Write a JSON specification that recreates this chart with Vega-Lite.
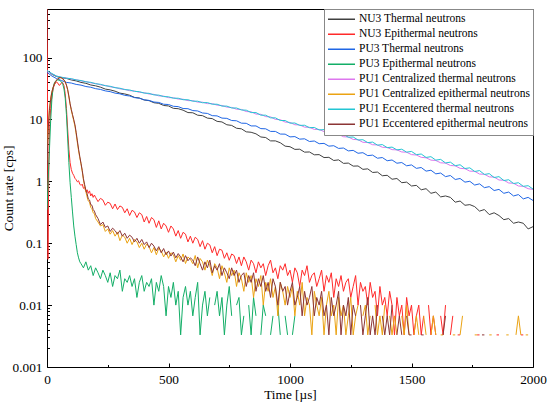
{
  "$schema": "https://vega.github.io/schema/vega-lite/v6.json",
  "description": "Neutron die-away count rate versus time.",
  "width": 486,
  "height": 358,
  "autosize": {"type": "none"},
  "padding": {"left": 47, "top": 9, "right": 17, "bottom": 39},
  "background": "white",
  "config": {
    "font": "Liberation Serif, Times New Roman, serif",
    "view": {"stroke": "#000", "strokeWidth": 1},
    "axis": {
      "labelFont": "Liberation Serif, Times New Roman, serif",
      "titleFont": "Liberation Serif, Times New Roman, serif",
      "labelFontSize": 13.3,
      "titleFontSize": 13.3,
      "titleFontWeight": "normal",
      "labelColor": "#000",
      "titleColor": "#000",
      "tickColor": "#000",
      "grid": false,
      "domain": false
    },
    "legend": {
      "labelFont": "Liberation Serif, Times New Roman, serif"
    }
  },
  "datasets": {
    "names": [
      {"s": "a", "name": "NU3 Thermal neutrons"},
      {"s": "b", "name": "NU3 Epithermal neutrons"},
      {"s": "c", "name": "PU3 Thermal neutrons"},
      {"s": "d", "name": "PU3 Epithermal neutrons"},
      {"s": "e", "name": "PU1 Centralized thermal neutrons"},
      {"s": "f", "name": "PU1 Centralized epithermal neutrons"},
      {"s": "g", "name": "PU1 Eccentered thermal neutrons"},
      {"s": "h", "name": "PU1 Eccentered epithermal neutrons"}
    ],
    "counts": [
      {"s":"a","t":0,"v":61.7},{"s":"a","t":20,"v":53.6},{"s":"a","t":40,"v":49.2},{"s":"a","t":60,"v":47.1},{"s":"a","t":80,"v":45.9},{"s":"a","t":100,"v":43.4},{"s":"a","t":120,"v":41.9},{"s":"a","t":140,"v":39.6},{"s":"a","t":160,"v":38.3},{"s":"a","t":180,"v":36.0},
      {"s":"a","t":200,"v":34.9},{"s":"a","t":220,"v":33.2},{"s":"a","t":240,"v":30.9},{"s":"a","t":260,"v":30.0},{"s":"a","t":280,"v":28.6},{"s":"a","t":300,"v":26.6},{"s":"a","t":320,"v":25.8},{"s":"a","t":340,"v":24.6},{"s":"a","t":360,"v":22.7},{"s":"a","t":380,"v":22.2},
      {"s":"a","t":400,"v":20.6},{"s":"a","t":420,"v":20.1},{"s":"a","t":440,"v":18.6},{"s":"a","t":460,"v":18.2},{"s":"a","t":480,"v":16.8},{"s":"a","t":500,"v":16.5},{"s":"a","t":520,"v":15.1},{"s":"a","t":540,"v":14.9},{"s":"a","t":560,"v":14.1},{"s":"a","t":580,"v":12.9},
      {"s":"a","t":600,"v":12.8},{"s":"a","t":620,"v":11.7},{"s":"a","t":640,"v":11.5},{"s":"a","t":660,"v":10.5},{"s":"a","t":680,"v":10.3},{"s":"a","t":700,"v":9.3},{"s":"a","t":720,"v":9.1},{"s":"a","t":740,"v":8.2},{"s":"a","t":760,"v":8.0},{"s":"a","t":780,"v":7.2},
      {"s":"a","t":800,"v":7.05},{"s":"a","t":820,"v":6.3},{"s":"a","t":840,"v":6.2},{"s":"a","t":860,"v":5.85},{"s":"a","t":880,"v":5.2},{"s":"a","t":900,"v":5.1},{"s":"a","t":920,"v":4.5},{"s":"a","t":940,"v":4.5},{"s":"a","t":960,"v":4.2},{"s":"a","t":980,"v":3.7},
      {"s":"a","t":1000,"v":3.62},{"s":"a","t":1020,"v":3.28},{"s":"a","t":1040,"v":3.3},{"s":"a","t":1060,"v":2.96},{"s":"a","t":1080,"v":2.98},{"s":"a","t":1100,"v":2.68},{"s":"a","t":1120,"v":2.7},{"s":"a","t":1140,"v":2.42},{"s":"a","t":1160,"v":2.44},{"s":"a","t":1180,"v":2.17},
      {"s":"a","t":1200,"v":2.22},{"s":"a","t":1220,"v":1.95},{"s":"a","t":1240,"v":1.97},{"s":"a","t":1260,"v":1.76},{"s":"a","t":1280,"v":1.77},{"s":"a","t":1300,"v":1.56},{"s":"a","t":1320,"v":1.59},{"s":"a","t":1340,"v":1.39},{"s":"a","t":1360,"v":1.41},{"s":"a","t":1380,"v":1.23},
      {"s":"a","t":1400,"v":1.25},{"s":"a","t":1420,"v":1.08},{"s":"a","t":1440,"v":1.11},{"s":"a","t":1460,"v":0.95},{"s":"a","t":1480,"v":0.97},{"s":"a","t":1500,"v":0.84},{"s":"a","t":1520,"v":0.86},{"s":"a","t":1540,"v":0.73},{"s":"a","t":1560,"v":0.76},{"s":"a","t":1580,"v":0.64},
      {"s":"a","t":1600,"v":0.67},{"s":"a","t":1620,"v":0.56},{"s":"a","t":1640,"v":0.58},{"s":"a","t":1660,"v":0.55},{"s":"a","t":1680,"v":0.46},{"s":"a","t":1700,"v":0.48},{"s":"a","t":1720,"v":0.41},{"s":"a","t":1740,"v":0.42},{"s":"a","t":1760,"v":0.39},{"s":"a","t":1780,"v":0.33},
      {"s":"a","t":1800,"v":0.35},{"s":"a","t":1820,"v":0.29},{"s":"a","t":1840,"v":0.31},{"s":"a","t":1860,"v":0.28},{"s":"a","t":1880,"v":0.24},{"s":"a","t":1900,"v":0.25},{"s":"a","t":1920,"v":0.21},{"s":"a","t":1940,"v":0.22},{"s":"a","t":1960,"v":0.21},{"s":"a","t":1980,"v":0.17},{"s":"a","t":2000,"v":0.185},

      {"s":"b","t":0,"v":700},{"s":"b","t":2,"v":30},{"s":"b","t":4,"v":0.055},{"s":"b","t":6,"v":0.4},{"s":"b","t":8,"v":2.5},{"s":"b","t":10,"v":6},{"s":"b","t":15,"v":15},{"s":"b","t":20,"v":24},{"s":"b","t":25,"v":31},{"s":"b","t":30,"v":36},
      {"s":"b","t":35,"v":39},{"s":"b","t":40,"v":40},{"s":"b","t":45,"v":38.5},{"s":"b","t":50,"v":35.5},{"s":"b","t":55,"v":36.5},{"s":"b","t":60,"v":39.5},{"s":"b","t":65,"v":39},{"s":"b","t":70,"v":35},{"s":"b","t":75,"v":26},{"s":"b","t":80,"v":15},
      {"s":"b","t":85,"v":7},{"s":"b","t":90,"v":3.3},{"s":"b","t":95,"v":2.0},{"s":"b","t":100,"v":1.55},{"s":"b","t":105,"v":1.35},{"s":"b","t":110,"v":1.25},{"s":"b","t":115,"v":1.12},{"s":"b","t":120,"v":1.06},{"s":"b","t":125,"v":0.98},{"s":"b","t":130,"v":1.02},
      {"s":"b","t":135,"v":0.9},{"s":"b","t":140,"v":0.86},{"s":"b","t":145,"v":0.9},{"s":"b","t":150,"v":0.77},{"s":"b","t":155,"v":0.8},{"s":"b","t":160,"v":0.68},{"s":"b","t":165,"v":0.73},{"s":"b","t":170,"v":0.64},{"s":"b","t":175,"v":0.7},{"s":"b","t":180,"v":0.58},
      {"s":"b","t":185,"v":0.63},{"s":"b","t":190,"v":0.55},{"s":"b","t":195,"v":0.6},{"s":"b","t":200,"v":0.55},{"s":"b","t":210,"v":0.47},{"s":"b","t":220,"v":0.53},{"s":"b","t":230,"v":0.5},{"s":"b","t":240,"v":0.41},{"s":"b","t":250,"v":0.46},{"s":"b","t":260,"v":0.44},
      {"s":"b","t":270,"v":0.36},{"s":"b","t":280,"v":0.43},{"s":"b","t":290,"v":0.35},{"s":"b","t":300,"v":0.4},{"s":"b","t":310,"v":0.38},{"s":"b","t":320,"v":0.31},{"s":"b","t":330,"v":0.36},{"s":"b","t":340,"v":0.28},{"s":"b","t":350,"v":0.34},{"s":"b","t":360,"v":0.32},
      {"s":"b","t":370,"v":0.26},{"s":"b","t":380,"v":0.31},{"s":"b","t":390,"v":0.29},{"s":"b","t":400,"v":0.22},{"s":"b","t":410,"v":0.27},{"s":"b","t":420,"v":0.21},{"s":"b","t":430,"v":0.26},{"s":"b","t":440,"v":0.24},{"s":"b","t":450,"v":0.18},{"s":"b","t":460,"v":0.23},
      {"s":"b","t":470,"v":0.17},{"s":"b","t":480,"v":0.21},{"s":"b","t":490,"v":0.19},{"s":"b","t":500,"v":0.15},{"s":"b","t":510,"v":0.19},{"s":"b","t":520,"v":0.17},{"s":"b","t":530,"v":0.13},{"s":"b","t":540,"v":0.16},{"s":"b","t":550,"v":0.12},{"s":"b","t":560,"v":0.15},
      {"s":"b","t":570,"v":0.14},{"s":"b","t":580,"v":0.105},{"s":"b","t":590,"v":0.13},{"s":"b","t":600,"v":0.1},{"s":"b","t":610,"v":0.125},{"s":"b","t":620,"v":0.115},{"s":"b","t":630,"v":0.088},{"s":"b","t":640,"v":0.11},{"s":"b","t":650,"v":0.08},{"s":"b","t":660,"v":0.1},
      {"s":"b","t":670,"v":0.094},{"s":"b","t":680,"v":0.07},{"s":"b","t":690,"v":0.088},{"s":"b","t":700,"v":0.063},{"s":"b","t":710,"v":0.08},{"s":"b","t":720,"v":0.077},{"s":"b","t":730,"v":0.057},{"s":"b","t":740,"v":0.07},{"s":"b","t":750,"v":0.053},{"s":"b","t":760,"v":0.067},
      {"s":"b","t":770,"v":0.063},{"s":"b","t":780,"v":0.047},{"s":"b","t":790,"v":0.06},{"s":"b","t":800,"v":0.0433},{"s":"b","t":810,"v":0.06},{"s":"b","t":820,"v":0.05},{"s":"b","t":830,"v":0.0367},{"s":"b","t":840,"v":0.0533},{"s":"b","t":850,"v":0.0467},{"s":"b","t":860,"v":0.0333},
      {"s":"b","t":870,"v":0.05},{"s":"b","t":880,"v":0.04},{"s":"b","t":890,"v":0.0467},{"s":"b","t":900,"v":0.03},{"s":"b","t":910,"v":0.0433},{"s":"b","t":920,"v":0.0533},{"s":"b","t":930,"v":0.0333},{"s":"b","t":940,"v":0.04},{"s":"b","t":950,"v":0.0267},{"s":"b","t":960,"v":0.0433},
      {"s":"b","t":970,"v":0.0367},{"s":"b","t":980,"v":0.0467},{"s":"b","t":990,"v":0.03},{"s":"b","t":1000,"v":0.0367},{"s":"b","t":1010,"v":0.0233},{"s":"b","t":1020,"v":0.04},{"s":"b","t":1030,"v":0.0333},{"s":"b","t":1040,"v":0.02},{"s":"b","t":1050,"v":0.0367},{"s":"b","t":1060,"v":0.03},
      {"s":"b","t":1070,"v":0.0433},{"s":"b","t":1080,"v":0.0233},{"s":"b","t":1090,"v":0.03},{"s":"b","t":1100,"v":0.0333},{"s":"b","t":1110,"v":0.02},{"s":"b","t":1120,"v":0.0267},{"s":"b","t":1130,"v":0.0367},{"s":"b","t":1140,"v":0.0167},{"s":"b","t":1150,"v":0.03},{"s":"b","t":1160,"v":0.0233},
      {"s":"b","t":1170,"v":0.0333},{"s":"b","t":1180,"v":0.0133},{"s":"b","t":1190,"v":0.0267},{"s":"b","t":1200,"v":0.02},{"s":"b","t":1210,"v":0.03},{"s":"b","t":1220,"v":0.0167},{"s":"b","t":1230,"v":0.0233},{"s":"b","t":1240,"v":0.0267},{"s":"b","t":1250,"v":0.0133},{"s":"b","t":1260,"v":0.02},
      {"s":"b","t":1270,"v":0.03},{"s":"b","t":1280,"v":0.01},{"s":"b","t":1290,"v":0.0233},{"s":"b","t":1300,"v":0.0167},{"s":"b","t":1310,"v":0.02},{"s":"b","t":1320,"v":0.01},{"s":"b","t":1330,"v":0.0233},{"s":"b","t":1340,"v":0.0133},{"s":"b","t":1350,"v":0.0167},{"s":"b","t":1360,"v":0.0067},
      {"s":"b","t":1370,"v":0.02},{"s":"b","t":1380,"v":0.01},{"s":"b","t":1390,"v":0.0133},{"s":"b","t":1400,"v":0.0067},{"s":"b","t":1410,"v":0.0167},{"s":"b","t":1420,"v":0.01},{"s":"b","t":1430,"v":0.0033},{"s":"b","t":1440,"v":0.0133},{"s":"b","t":1450,"v":0.0067},{"s":"b","t":1460,"v":0.01},
      {"s":"b","t":1470,"v":0.0033},{"s":"b","t":1480,"v":0.0133},{"s":"b","t":1490,"v":0.0067},{"s":"b","t":1500,"v":0.01},{"s":"b","t":1510,"v":0.0033},{"s":"b","t":1520,"v":0.0067},{"s":"b","t":1530,"v":0.01},{"s":"b","t":1540,"v":0.0033},{"s":"b","t":1550,"v":0.0067},{"s":"b","t":1560,"v":null},
      {"s":"b","t":1570,"v":0.01},{"s":"b","t":1580,"v":0.0033},{"s":"b","t":1590,"v":0.0067},{"s":"b","t":1600,"v":0.0033},{"s":"b","t":1610,"v":null},{"s":"b","t":1620,"v":0.0067},{"s":"b","t":1630,"v":0.0033},{"s":"b","t":1640,"v":0.01},{"s":"b","t":1650,"v":null},{"s":"b","t":1660,"v":0.0033},
      {"s":"b","t":1670,"v":0.0067},{"s":"b","t":1680,"v":null},{"s":"b","t":1690,"v":0.0033},{"s":"b","t":1700,"v":0.0033},{"s":"b","t":1710,"v":null},{"s":"b","t":1720,"v":0.0067},{"s":"b","t":1730,"v":null},{"s":"b","t":1740,"v":0.0033},{"s":"b","t":1750,"v":null},{"s":"b","t":1770,"v":0.0033},
      {"s":"b","t":1780,"v":0.0033},{"s":"b","t":1790,"v":null},{"s":"b","t":1800,"v":0.0067},{"s":"b","t":1810,"v":null},{"s":"b","t":1830,"v":0.0033},{"s":"b","t":1840,"v":null},{"s":"b","t":1850,"v":0.0033},{"s":"b","t":1860,"v":0.0033},{"s":"b","t":1870,"v":null},{"s":"b","t":1890,"v":0.0033},
      {"s":"b","t":1900,"v":null},{"s":"b","t":1920,"v":0.0033},{"s":"b","t":1930,"v":null},{"s":"b","t":1950,"v":0.0033},{"s":"b","t":1960,"v":0.0033},{"s":"b","t":1970,"v":null},{"s":"b","t":1990,"v":0.0033},{"s":"b","t":2000,"v":null},

      {"s":"c","t":0,"v":57.5},{"s":"c","t":20,"v":50.3},{"s":"c","t":40,"v":45.5},{"s":"c","t":60,"v":42.4},{"s":"c","t":80,"v":39.6},{"s":"c","t":100,"v":38.7},{"s":"c","t":120,"v":36.8},{"s":"c","t":140,"v":35.8},{"s":"c","t":160,"v":34.0},{"s":"c","t":180,"v":33.1},
      {"s":"c","t":200,"v":31.4},{"s":"c","t":220,"v":30.5},{"s":"c","t":240,"v":28.9},{"s":"c","t":260,"v":28.1},{"s":"c","t":280,"v":26.6},{"s":"c","t":300,"v":25.9},{"s":"c","t":320,"v":24.5},{"s":"c","t":340,"v":23.9},{"s":"c","t":360,"v":22.5},{"s":"c","t":380,"v":22.0},
      {"s":"c","t":400,"v":20.7},{"s":"c","t":420,"v":20.3},{"s":"c","t":440,"v":19.1},{"s":"c","t":460,"v":18.8},{"s":"c","t":480,"v":17.6},{"s":"c","t":500,"v":17.4},{"s":"c","t":520,"v":16.3},{"s":"c","t":540,"v":16.1},{"s":"c","t":560,"v":15.0},{"s":"c","t":580,"v":14.9},
      {"s":"c","t":600,"v":13.9},{"s":"c","t":620,"v":13.7},{"s":"c","t":640,"v":12.7},{"s":"c","t":660,"v":12.5},{"s":"c","t":680,"v":11.5},{"s":"c","t":700,"v":11.4},{"s":"c","t":720,"v":10.5},{"s":"c","t":740,"v":10.4},{"s":"c","t":760,"v":9.6},{"s":"c","t":780,"v":9.5},
      {"s":"c","t":800,"v":8.7},{"s":"c","t":820,"v":8.65},{"s":"c","t":840,"v":7.85},{"s":"c","t":860,"v":7.85},{"s":"c","t":880,"v":7.1},{"s":"c","t":900,"v":7.05},{"s":"c","t":920,"v":6.4},{"s":"c","t":940,"v":6.4},{"s":"c","t":960,"v":5.8},{"s":"c","t":980,"v":5.78},
      {"s":"c","t":1000,"v":5.22},{"s":"c","t":1020,"v":5.28},{"s":"c","t":1040,"v":4.8},{"s":"c","t":1060,"v":4.86},{"s":"c","t":1080,"v":4.4},{"s":"c","t":1100,"v":4.48},{"s":"c","t":1120,"v":4.05},{"s":"c","t":1140,"v":4.1},{"s":"c","t":1160,"v":3.7},{"s":"c","t":1180,"v":3.76},
      {"s":"c","t":1200,"v":3.4},{"s":"c","t":1220,"v":3.45},{"s":"c","t":1240,"v":3.1},{"s":"c","t":1260,"v":3.16},{"s":"c","t":1280,"v":2.84},{"s":"c","t":1300,"v":2.9},{"s":"c","t":1320,"v":2.6},{"s":"c","t":1340,"v":2.65},{"s":"c","t":1360,"v":2.36},{"s":"c","t":1380,"v":2.42},
      {"s":"c","t":1400,"v":2.15},{"s":"c","t":1420,"v":2.21},{"s":"c","t":1440,"v":1.96},{"s":"c","t":1460,"v":2.01},{"s":"c","t":1480,"v":1.78},{"s":"c","t":1500,"v":1.84},{"s":"c","t":1520,"v":1.62},{"s":"c","t":1540,"v":1.67},{"s":"c","t":1560,"v":1.46},{"s":"c","t":1580,"v":1.51},
      {"s":"c","t":1600,"v":1.32},{"s":"c","t":1620,"v":1.36},{"s":"c","t":1640,"v":1.19},{"s":"c","t":1660,"v":1.24},{"s":"c","t":1680,"v":1.07},{"s":"c","t":1700,"v":1.11},{"s":"c","t":1720,"v":0.97},{"s":"c","t":1740,"v":1.0},{"s":"c","t":1760,"v":0.87},{"s":"c","t":1780,"v":0.91},
      {"s":"c","t":1800,"v":0.79},{"s":"c","t":1820,"v":0.82},{"s":"c","t":1840,"v":0.71},{"s":"c","t":1860,"v":0.74},{"s":"c","t":1880,"v":0.64},{"s":"c","t":1900,"v":0.67},{"s":"c","t":1920,"v":0.58},{"s":"c","t":1940,"v":0.61},{"s":"c","t":1960,"v":0.52},{"s":"c","t":1980,"v":0.55},{"s":"c","t":2000,"v":0.49},

      {"s":"d","t":0,"v":0.35},{"s":"d","t":5,"v":1.1},{"s":"d","t":10,"v":3.2},{"s":"d","t":15,"v":9.5},{"s":"d","t":20,"v":21},{"s":"d","t":25,"v":32},{"s":"d","t":30,"v":38.5},{"s":"d","t":35,"v":41.5},{"s":"d","t":40,"v":43},{"s":"d","t":45,"v":43.5},
      {"s":"d","t":50,"v":43},{"s":"d","t":55,"v":42},{"s":"d","t":60,"v":40},{"s":"d","t":65,"v":37},{"s":"d","t":70,"v":31},{"s":"d","t":75,"v":22},{"s":"d","t":80,"v":12},{"s":"d","t":85,"v":5},{"s":"d","t":90,"v":2.0},{"s":"d","t":95,"v":0.95},
      {"s":"d","t":100,"v":0.55},{"s":"d","t":105,"v":0.32},{"s":"d","t":110,"v":0.19},{"s":"d","t":115,"v":0.13},{"s":"d","t":120,"v":0.095},{"s":"d","t":125,"v":0.07},{"s":"d","t":130,"v":0.058},{"s":"d","t":135,"v":0.05},
      {"s":"d","t":140,"v":0.0467},{"s":"d","t":150,"v":0.04},{"s":"d","t":160,"v":0.05},{"s":"d","t":170,"v":0.0367},{"s":"d","t":180,"v":0.0433},{"s":"d","t":190,"v":0.03},{"s":"d","t":200,"v":0.04},{"s":"d","t":210,"v":0.0333},{"s":"d","t":220,"v":0.0267},{"s":"d","t":230,"v":0.0367},
      {"s":"d","t":240,"v":0.03},{"s":"d","t":250,"v":0.0233},{"s":"d","t":260,"v":0.0333},{"s":"d","t":270,"v":0.02},{"s":"d","t":280,"v":0.03},{"s":"d","t":290,"v":0.0267},{"s":"d","t":300,"v":0.0367},{"s":"d","t":310,"v":0.0167},{"s":"d","t":320,"v":0.0267},{"s":"d","t":330,"v":0.0233},
      {"s":"d","t":340,"v":0.03},{"s":"d","t":350,"v":0.02},{"s":"d","t":360,"v":0.0267},{"s":"d","t":370,"v":0.0133},{"s":"d","t":380,"v":0.0233},{"s":"d","t":390,"v":0.03},{"s":"d","t":400,"v":0.0167},{"s":"d","t":410,"v":0.0233},{"s":"d","t":420,"v":0.02},{"s":"d","t":430,"v":0.0267},
      {"s":"d","t":440,"v":0.01},{"s":"d","t":450,"v":0.0233},{"s":"d","t":460,"v":0.0167},{"s":"d","t":470,"v":0.03},{"s":"d","t":480,"v":0.02},{"s":"d","t":490,"v":0.0067},{"s":"d","t":500,"v":0.02},{"s":"d","t":510,"v":0.0133},{"s":"d","t":520,"v":0.0233},{"s":"d","t":530,"v":0.01},
      {"s":"d","t":540,"v":0.0167},{"s":"d","t":550,"v":0.0033},{"s":"d","t":560,"v":0.0133},{"s":"d","t":570,"v":0.02},{"s":"d","t":580,"v":0.01},{"s":"d","t":590,"v":0.0167},{"s":"d","t":600,"v":0.0067},{"s":"d","t":610,"v":0.0133},{"s":"d","t":620,"v":0.0233},{"s":"d","t":630,"v":0.0033},
      {"s":"d","t":640,"v":0.01},{"s":"d","t":650,"v":0.0167},{"s":"d","t":660,"v":0.0067},{"s":"d","t":670,"v":0.0133},{"s":"d","t":680,"v":null},{"s":"d","t":690,"v":0.01},{"s":"d","t":700,"v":0.0167},{"s":"d","t":710,"v":0.0067},{"s":"d","t":720,"v":0.0133},{"s":"d","t":730,"v":0.0033},
      {"s":"d","t":740,"v":0.01},{"s":"d","t":750,"v":0.02},{"s":"d","t":760,"v":0.0067},{"s":"d","t":770,"v":null},{"s":"d","t":780,"v":0.01},{"s":"d","t":790,"v":0.0133},{"s":"d","t":800,"v":0.0033},{"s":"d","t":810,"v":0.0067},{"s":"d","t":820,"v":null},{"s":"d","t":830,"v":0.01},
      {"s":"d","t":840,"v":0.0033},{"s":"d","t":850,"v":0.0133},{"s":"d","t":860,"v":0.0067},{"s":"d","t":870,"v":null},{"s":"d","t":880,"v":0.0033},{"s":"d","t":890,"v":0.01},{"s":"d","t":900,"v":0.0067},{"s":"d","t":910,"v":null},{"s":"d","t":920,"v":0.0033},{"s":"d","t":930,"v":0.0067},
      {"s":"d","t":940,"v":null},{"s":"d","t":950,"v":0.01},{"s":"d","t":960,"v":0.0033},{"s":"d","t":970,"v":null},{"s":"d","t":980,"v":0.0067},{"s":"d","t":990,"v":0.0033},{"s":"d","t":1000,"v":null},{"s":"d","t":1010,"v":0.0033},{"s":"d","t":1020,"v":0.0067},{"s":"d","t":1030,"v":null},{"s":"d","t":1040,"v":0.0033},{"s":"d","t":1050,"v":null},

      {"s":"e","t":0,"v":61.0},{"s":"e","t":20,"v":54.6},{"s":"e","t":40,"v":50.2},{"s":"e","t":60,"v":47.6},{"s":"e","t":80,"v":46.6},{"s":"e","t":100,"v":44.9},{"s":"e","t":120,"v":43.8},{"s":"e","t":140,"v":41.9},{"s":"e","t":160,"v":40.9},{"s":"e","t":180,"v":39.0},
      {"s":"e","t":200,"v":38.1},{"s":"e","t":220,"v":36.2},{"s":"e","t":240,"v":35.4},{"s":"e","t":260,"v":33.6},{"s":"e","t":280,"v":32.9},{"s":"e","t":300,"v":31.2},{"s":"e","t":320,"v":30.6},{"s":"e","t":340,"v":29.1},{"s":"e","t":360,"v":28.8},{"s":"e","t":380,"v":27.4},
      {"s":"e","t":400,"v":27.0},{"s":"e","t":420,"v":25.7},{"s":"e","t":440,"v":25.4},{"s":"e","t":460,"v":24.0},{"s":"e","t":480,"v":23.8},{"s":"e","t":500,"v":22.5},{"s":"e","t":520,"v":22.4},{"s":"e","t":540,"v":21.3},{"s":"e","t":560,"v":21.2},{"s":"e","t":580,"v":20.1},
      {"s":"e","t":600,"v":20.1},{"s":"e","t":620,"v":19.0},{"s":"e","t":640,"v":19.0},{"s":"e","t":660,"v":18.0},{"s":"e","t":680,"v":18.0},{"s":"e","t":700,"v":17.0},{"s":"e","t":720,"v":16.8},{"s":"e","t":740,"v":15.8},{"s":"e","t":760,"v":15.6},{"s":"e","t":780,"v":14.6},
      {"s":"e","t":800,"v":14.5},{"s":"e","t":820,"v":13.4},{"s":"e","t":840,"v":13.3},{"s":"e","t":860,"v":12.2},{"s":"e","t":880,"v":12.1},{"s":"e","t":900,"v":11.1},{"s":"e","t":920,"v":11.0},{"s":"e","t":940,"v":10.0},{"s":"e","t":960,"v":9.9},{"s":"e","t":980,"v":9.05},
      {"s":"e","t":1000,"v":8.95},{"s":"e","t":1020,"v":8.2},{"s":"e","t":1040,"v":8.15},{"s":"e","t":1060,"v":7.5},{"s":"e","t":1080,"v":7.45},{"s":"e","t":1100,"v":6.9},{"s":"e","t":1120,"v":6.9},{"s":"e","t":1140,"v":6.35},{"s":"e","t":1160,"v":6.3},{"s":"e","t":1180,"v":5.8},
      {"s":"e","t":1200,"v":5.75},{"s":"e","t":1220,"v":5.25},{"s":"e","t":1240,"v":5.2},{"s":"e","t":1260,"v":4.75},{"s":"e","t":1280,"v":4.7},{"s":"e","t":1300,"v":4.27},{"s":"e","t":1320,"v":4.24},{"s":"e","t":1340,"v":3.9},{"s":"e","t":1360,"v":3.87},{"s":"e","t":1380,"v":3.55},
      {"s":"e","t":1400,"v":3.52},{"s":"e","t":1420,"v":3.25},{"s":"e","t":1440,"v":3.22},{"s":"e","t":1460,"v":2.98},{"s":"e","t":1480,"v":2.95},{"s":"e","t":1500,"v":2.7},{"s":"e","t":1520,"v":2.66},{"s":"e","t":1540,"v":2.44},{"s":"e","t":1560,"v":2.4},{"s":"e","t":1580,"v":2.2},
      {"s":"e","t":1600,"v":2.17},{"s":"e","t":1620,"v":1.99},{"s":"e","t":1640,"v":1.97},{"s":"e","t":1660,"v":1.8},{"s":"e","t":1680,"v":1.78},{"s":"e","t":1700,"v":1.62},{"s":"e","t":1720,"v":1.6},{"s":"e","t":1740,"v":1.46},{"s":"e","t":1760,"v":1.45},{"s":"e","t":1780,"v":1.31},
      {"s":"e","t":1800,"v":1.3},{"s":"e","t":1820,"v":1.18},{"s":"e","t":1840,"v":1.17},{"s":"e","t":1860,"v":1.05},{"s":"e","t":1880,"v":1.04},{"s":"e","t":1900,"v":0.94},{"s":"e","t":1920,"v":0.93},{"s":"e","t":1940,"v":0.84},{"s":"e","t":1960,"v":0.83},{"s":"e","t":1980,"v":0.76},{"s":"e","t":2000,"v":0.74},

      {"s":"f","t":0,"v":2.2},{"s":"f","t":5,"v":8},{"s":"f","t":10,"v":15},{"s":"f","t":15,"v":22},{"s":"f","t":20,"v":28},{"s":"f","t":25,"v":33},{"s":"f","t":30,"v":37},{"s":"f","t":35,"v":40.5},{"s":"f","t":40,"v":43},{"s":"f","t":45,"v":45},
      {"s":"f","t":50,"v":46.5},{"s":"f","t":55,"v":47},{"s":"f","t":60,"v":46.5},{"s":"f","t":65,"v":45},{"s":"f","t":70,"v":43},{"s":"f","t":75,"v":40},{"s":"f","t":80,"v":35.5},{"s":"f","t":85,"v":30},{"s":"f","t":90,"v":23},{"s":"f","t":95,"v":17.5},
      {"s":"f","t":100,"v":14},{"s":"f","t":105,"v":11.5},{"s":"f","t":110,"v":9.5},{"s":"f","t":115,"v":7.8},{"s":"f","t":120,"v":5.8},{"s":"f","t":125,"v":4.2},{"s":"f","t":130,"v":3.1},{"s":"f","t":135,"v":2.4},{"s":"f","t":140,"v":1.9},{"s":"f","t":145,"v":1.45},
      {"s":"f","t":150,"v":1.05},{"s":"f","t":155,"v":0.82},{"s":"f","t":160,"v":0.68},{"s":"f","t":165,"v":0.56},{"s":"f","t":170,"v":0.48},{"s":"f","t":175,"v":0.46},{"s":"f","t":180,"v":0.38},{"s":"f","t":185,"v":0.36},{"s":"f","t":190,"v":0.31},{"s":"f","t":195,"v":0.3},
      {"s":"f","t":200,"v":0.25},{"s":"f","t":210,"v":0.22},{"s":"f","t":220,"v":0.19},{"s":"f","t":230,"v":0.2},{"s":"f","t":240,"v":0.155},{"s":"f","t":250,"v":0.17},{"s":"f","t":260,"v":0.14},{"s":"f","t":270,"v":0.16},{"s":"f","t":280,"v":0.13},{"s":"f","t":290,"v":0.15},
      {"s":"f","t":300,"v":0.11},{"s":"f","t":310,"v":0.135},{"s":"f","t":320,"v":0.125},{"s":"f","t":330,"v":0.1},{"s":"f","t":340,"v":0.12},{"s":"f","t":350,"v":0.095},{"s":"f","t":360,"v":0.115},{"s":"f","t":370,"v":0.105},{"s":"f","t":380,"v":0.085},{"s":"f","t":390,"v":0.1},
      {"s":"f","t":400,"v":0.08},{"s":"f","t":410,"v":0.097},{"s":"f","t":420,"v":0.088},{"s":"f","t":430,"v":0.07},{"s":"f","t":440,"v":0.085},{"s":"f","t":450,"v":0.065},{"s":"f","t":460,"v":0.083},{"s":"f","t":470,"v":0.075},{"s":"f","t":480,"v":0.06},{"s":"f","t":490,"v":0.072},
      {"s":"f","t":500,"v":0.057},{"s":"f","t":510,"v":0.07},{"s":"f","t":520,"v":0.065},{"s":"f","t":530,"v":0.05},{"s":"f","t":540,"v":0.063},{"s":"f","t":550,"v":0.053},{"s":"f","t":560,"v":0.067},{"s":"f","t":570,"v":0.047},{"s":"f","t":580,"v":0.06},{"s":"f","t":590,"v":0.055},
      {"s":"f","t":600,"v":0.0467},{"s":"f","t":610,"v":0.0633},{"s":"f","t":620,"v":0.04},{"s":"f","t":630,"v":0.0567},{"s":"f","t":640,"v":0.05},{"s":"f","t":650,"v":0.0367},{"s":"f","t":660,"v":0.0533},{"s":"f","t":670,"v":0.0433},{"s":"f","t":680,"v":0.03},{"s":"f","t":690,"v":0.0467},
      {"s":"f","t":700,"v":0.04},{"s":"f","t":710,"v":0.0267},{"s":"f","t":720,"v":0.0433},{"s":"f","t":730,"v":0.0333},{"s":"f","t":740,"v":0.0233},{"s":"f","t":750,"v":0.04},{"s":"f","t":760,"v":0.03},{"s":"f","t":770,"v":0.0367},{"s":"f","t":780,"v":0.02},{"s":"f","t":790,"v":0.0333},
      {"s":"f","t":800,"v":0.0267},{"s":"f","t":810,"v":0.0167},{"s":"f","t":820,"v":0.0333},{"s":"f","t":830,"v":0.0233},{"s":"f","t":840,"v":0.03},{"s":"f","t":850,"v":0.0133},{"s":"f","t":860,"v":0.0267},{"s":"f","t":870,"v":0.02},{"s":"f","t":880,"v":0.03},{"s":"f","t":890,"v":0.01},
      {"s":"f","t":900,"v":0.0233},{"s":"f","t":910,"v":0.0167},{"s":"f","t":920,"v":0.0267},{"s":"f","t":930,"v":0.0133},{"s":"f","t":940,"v":0.02},{"s":"f","t":950,"v":0.0067},{"s":"f","t":960,"v":0.0233},{"s":"f","t":970,"v":0.0167},{"s":"f","t":980,"v":0.01},{"s":"f","t":990,"v":0.02},
      {"s":"f","t":1000,"v":0.0133},{"s":"f","t":1010,"v":0.02},{"s":"f","t":1020,"v":0.0067},{"s":"f","t":1030,"v":0.0167},{"s":"f","t":1040,"v":0.01},{"s":"f","t":1050,"v":0.0233},{"s":"f","t":1060,"v":0.0067},{"s":"f","t":1070,"v":0.0133},{"s":"f","t":1080,"v":0.01},{"s":"f","t":1090,"v":0.0033},
      {"s":"f","t":1100,"v":0.0167},{"s":"f","t":1110,"v":0.01},{"s":"f","t":1120,"v":0.0067},{"s":"f","t":1130,"v":0.0133},{"s":"f","t":1140,"v":0.0033},{"s":"f","t":1150,"v":0.01},{"s":"f","t":1160,"v":0.0167},{"s":"f","t":1170,"v":0.0067},{"s":"f","t":1180,"v":0.01},{"s":"f","t":1190,"v":0.0033},
      {"s":"f","t":1200,"v":0.0133},{"s":"f","t":1210,"v":0.0067},{"s":"f","t":1220,"v":0.01},{"s":"f","t":1230,"v":0.0033},{"s":"f","t":1240,"v":0.0067},{"s":"f","t":1250,"v":0.0133},{"s":"f","t":1260,"v":0.0033},{"s":"f","t":1270,"v":0.0067},{"s":"f","t":1280,"v":0.01},{"s":"f","t":1290,"v":null},
      {"s":"f","t":1300,"v":0.0067},{"s":"f","t":1310,"v":0.01},{"s":"f","t":1320,"v":0.0033},{"s":"f","t":1330,"v":0.0067},{"s":"f","t":1340,"v":null},{"s":"f","t":1350,"v":0.01},{"s":"f","t":1360,"v":0.0033},{"s":"f","t":1370,"v":0.0067},{"s":"f","t":1380,"v":0.0033},{"s":"f","t":1390,"v":0.01},
      {"s":"f","t":1400,"v":null},{"s":"f","t":1410,"v":0.0067},{"s":"f","t":1420,"v":0.0033},{"s":"f","t":1430,"v":0.0067},{"s":"f","t":1440,"v":0.0033},{"s":"f","t":1450,"v":null},{"s":"f","t":1460,"v":0.0067},{"s":"f","t":1470,"v":0.0033},{"s":"f","t":1480,"v":0.01},{"s":"f","t":1490,"v":0.0033},
      {"s":"f","t":1500,"v":null},{"s":"f","t":1510,"v":0.0033},{"s":"f","t":1520,"v":0.0067},{"s":"f","t":1530,"v":0.0033},{"s":"f","t":1540,"v":null},{"s":"f","t":1550,"v":0.0067},{"s":"f","t":1560,"v":0.0033},{"s":"f","t":1570,"v":null},{"s":"f","t":1580,"v":0.0033},{"s":"f","t":1590,"v":0.0067},
      {"s":"f","t":1600,"v":0.0033},{"s":"f","t":1610,"v":null},{"s":"f","t":1620,"v":0.0033},{"s":"f","t":1630,"v":0.0033},{"s":"f","t":1640,"v":null},{"s":"f","t":1650,"v":0.0067},{"s":"f","t":1660,"v":null},{"s":"f","t":1670,"v":0.0033},{"s":"f","t":1680,"v":0.0033},{"s":"f","t":1690,"v":null},
      {"s":"f","t":1700,"v":0.0033},{"s":"f","t":1710,"v":0.0067},{"s":"f","t":1720,"v":null},{"s":"f","t":1730,"v":0.0033},{"s":"f","t":1740,"v":null},{"s":"f","t":1760,"v":0.0033},{"s":"f","t":1770,"v":0.0033},{"s":"f","t":1780,"v":null},{"s":"f","t":1800,"v":0.0033},{"s":"f","t":1810,"v":null},
      {"s":"f","t":1820,"v":0.0033},{"s":"f","t":1830,"v":0.0033},{"s":"f","t":1840,"v":null},{"s":"f","t":1860,"v":0.0033},{"s":"f","t":1870,"v":null},{"s":"f","t":1890,"v":0.0033},{"s":"f","t":1900,"v":0.0033},{"s":"f","t":1910,"v":null},{"s":"f","t":1930,"v":0.0033},{"s":"f","t":1940,"v":0.0067},
      {"s":"f","t":1950,"v":0.0033},{"s":"f","t":1960,"v":null},{"s":"f","t":1970,"v":0.0033},{"s":"f","t":1980,"v":0.0033},{"s":"f","t":1990,"v":null},{"s":"f","t":2000,"v":0.0033},

      {"s":"g","t":0,"v":61.7},{"s":"g","t":20,"v":55.2},{"s":"g","t":40,"v":49.9},{"s":"g","t":60,"v":48.1},{"s":"g","t":80,"v":46.3},{"s":"g","t":100,"v":45.5},{"s":"g","t":120,"v":43.4},{"s":"g","t":140,"v":42.5},{"s":"g","t":160,"v":40.5},{"s":"g","t":180,"v":39.7},
      {"s":"g","t":200,"v":37.7},{"s":"g","t":220,"v":36.9},{"s":"g","t":240,"v":35.0},{"s":"g","t":260,"v":34.3},{"s":"g","t":280,"v":32.5},{"s":"g","t":300,"v":31.9},{"s":"g","t":320,"v":30.3},{"s":"g","t":340,"v":29.9},{"s":"g","t":360,"v":28.4},{"s":"g","t":380,"v":28.1},
      {"s":"g","t":400,"v":26.6},{"s":"g","t":420,"v":26.4},{"s":"g","t":440,"v":24.9},{"s":"g","t":460,"v":24.7},{"s":"g","t":480,"v":23.4},{"s":"g","t":500,"v":23.2},{"s":"g","t":520,"v":22.0},{"s":"g","t":540,"v":22.0},{"s":"g","t":560,"v":20.8},{"s":"g","t":580,"v":20.8},
      {"s":"g","t":600,"v":19.7},{"s":"g","t":620,"v":19.7},{"s":"g","t":640,"v":18.6},{"s":"g","t":660,"v":18.7},{"s":"g","t":680,"v":17.6},{"s":"g","t":700,"v":17.6},{"s":"g","t":720,"v":16.4},{"s":"g","t":740,"v":16.4},{"s":"g","t":760,"v":15.3},{"s":"g","t":780,"v":15.3},
      {"s":"g","t":800,"v":14.2},{"s":"g","t":820,"v":14.1},{"s":"g","t":840,"v":12.9},{"s":"g","t":860,"v":12.9},{"s":"g","t":880,"v":11.7},{"s":"g","t":900,"v":11.7},{"s":"g","t":920,"v":10.6},{"s":"g","t":940,"v":10.6},{"s":"g","t":960,"v":9.6},{"s":"g","t":980,"v":9.6},
      {"s":"g","t":1000,"v":8.7},{"s":"g","t":1020,"v":8.75},{"s":"g","t":1040,"v":8.0},{"s":"g","t":1060,"v":8.05},{"s":"g","t":1080,"v":7.35},{"s":"g","t":1100,"v":7.42},{"s":"g","t":1120,"v":6.75},{"s":"g","t":1140,"v":6.85},{"s":"g","t":1160,"v":6.2},{"s":"g","t":1180,"v":6.3},
      {"s":"g","t":1200,"v":5.7},{"s":"g","t":1220,"v":5.75},{"s":"g","t":1240,"v":5.15},{"s":"g","t":1260,"v":5.2},{"s":"g","t":1280,"v":4.65},{"s":"g","t":1300,"v":4.7},{"s":"g","t":1320,"v":4.22},{"s":"g","t":1340,"v":4.3},{"s":"g","t":1360,"v":3.84},{"s":"g","t":1380,"v":3.92},
      {"s":"g","t":1400,"v":3.5},{"s":"g","t":1420,"v":3.57},{"s":"g","t":1440,"v":3.22},{"s":"g","t":1460,"v":3.3},{"s":"g","t":1480,"v":2.96},{"s":"g","t":1500,"v":3.04},{"s":"g","t":1520,"v":2.7},{"s":"g","t":1540,"v":2.76},{"s":"g","t":1560,"v":2.43},{"s":"g","t":1580,"v":2.5},
      {"s":"g","t":1600,"v":2.2},{"s":"g","t":1620,"v":2.26},{"s":"g","t":1640,"v":1.98},{"s":"g","t":1660,"v":2.04},{"s":"g","t":1680,"v":1.79},{"s":"g","t":1700,"v":1.85},{"s":"g","t":1720,"v":1.61},{"s":"g","t":1740,"v":1.65},{"s":"g","t":1760,"v":1.44},{"s":"g","t":1780,"v":1.49},
      {"s":"g","t":1800,"v":1.29},{"s":"g","t":1820,"v":1.33},{"s":"g","t":1840,"v":1.15},{"s":"g","t":1860,"v":1.19},{"s":"g","t":1880,"v":1.03},{"s":"g","t":1900,"v":1.06},{"s":"g","t":1920,"v":0.92},{"s":"g","t":1940,"v":0.95},{"s":"g","t":1960,"v":0.83},{"s":"g","t":1980,"v":0.85},{"s":"g","t":2000,"v":0.75},

      {"s":"h","t":0,"v":1.8},{"s":"h","t":5,"v":7},{"s":"h","t":10,"v":14},{"s":"h","t":15,"v":21},{"s":"h","t":20,"v":27.5},{"s":"h","t":25,"v":32.5},{"s":"h","t":30,"v":37},{"s":"h","t":35,"v":40.5},{"s":"h","t":40,"v":43.5},{"s":"h","t":45,"v":45.5},
      {"s":"h","t":50,"v":47},{"s":"h","t":55,"v":47.5},{"s":"h","t":60,"v":47},{"s":"h","t":65,"v":45.5},{"s":"h","t":70,"v":43.5},{"s":"h","t":75,"v":40.5},{"s":"h","t":80,"v":36},{"s":"h","t":85,"v":30.5},{"s":"h","t":90,"v":24},{"s":"h","t":95,"v":18},
      {"s":"h","t":100,"v":14.5},{"s":"h","t":105,"v":12},{"s":"h","t":110,"v":10},{"s":"h","t":115,"v":8.2},{"s":"h","t":120,"v":6.2},{"s":"h","t":125,"v":4.5},{"s":"h","t":130,"v":3.3},{"s":"h","t":135,"v":2.5},{"s":"h","t":140,"v":1.95},{"s":"h","t":145,"v":1.5},
      {"s":"h","t":150,"v":1.1},{"s":"h","t":155,"v":0.88},{"s":"h","t":160,"v":0.72},{"s":"h","t":165,"v":0.63},{"s":"h","t":170,"v":0.52},{"s":"h","t":175,"v":0.5},{"s":"h","t":180,"v":0.42},{"s":"h","t":185,"v":0.41},{"s":"h","t":190,"v":0.35},{"s":"h","t":195,"v":0.33},
      {"s":"h","t":200,"v":0.29},{"s":"h","t":210,"v":0.25},{"s":"h","t":220,"v":0.2},{"s":"h","t":230,"v":0.22},{"s":"h","t":240,"v":0.18},{"s":"h","t":250,"v":0.19},{"s":"h","t":260,"v":0.155},{"s":"h","t":270,"v":0.175},{"s":"h","t":280,"v":0.16},{"s":"h","t":290,"v":0.14},
      {"s":"h","t":300,"v":0.16},{"s":"h","t":310,"v":0.13},{"s":"h","t":320,"v":0.145},{"s":"h","t":330,"v":0.12},{"s":"h","t":340,"v":0.135},{"s":"h","t":350,"v":0.125},{"s":"h","t":360,"v":0.105},{"s":"h","t":370,"v":0.12},{"s":"h","t":380,"v":0.1},{"s":"h","t":390,"v":0.115},
      {"s":"h","t":400,"v":0.095},{"s":"h","t":410,"v":0.105},{"s":"h","t":420,"v":0.085},{"s":"h","t":430,"v":0.1},{"s":"h","t":440,"v":0.09},{"s":"h","t":450,"v":0.075},{"s":"h","t":460,"v":0.088},{"s":"h","t":470,"v":0.07},{"s":"h","t":480,"v":0.082},{"s":"h","t":490,"v":0.065},
      {"s":"h","t":500,"v":0.075},{"s":"h","t":510,"v":0.062},{"s":"h","t":520,"v":0.072},{"s":"h","t":530,"v":0.058},{"s":"h","t":540,"v":0.068},{"s":"h","t":550,"v":0.06},{"s":"h","t":560,"v":0.05},{"s":"h","t":570,"v":0.063},{"s":"h","t":580,"v":0.052},{"s":"h","t":590,"v":0.058},
      {"s":"h","t":600,"v":0.0533},{"s":"h","t":610,"v":0.0433},{"s":"h","t":620,"v":0.06},{"s":"h","t":630,"v":0.0467},{"s":"h","t":640,"v":0.0367},{"s":"h","t":650,"v":0.05},{"s":"h","t":660,"v":0.04},{"s":"h","t":670,"v":0.0533},{"s":"h","t":680,"v":0.0333},{"s":"h","t":690,"v":0.0433},
      {"s":"h","t":700,"v":0.0367},{"s":"h","t":710,"v":0.0467},{"s":"h","t":720,"v":0.03},{"s":"h","t":730,"v":0.04},{"s":"h","t":740,"v":0.0333},{"s":"h","t":750,"v":0.0267},{"s":"h","t":760,"v":0.04},{"s":"h","t":770,"v":0.03},{"s":"h","t":780,"v":0.0367},{"s":"h","t":790,"v":0.0233},
      {"s":"h","t":800,"v":0.03},{"s":"h","t":810,"v":0.0333},{"s":"h","t":820,"v":0.02},{"s":"h","t":830,"v":0.03},{"s":"h","t":840,"v":0.0233},{"s":"h","t":850,"v":0.0333},{"s":"h","t":860,"v":0.0167},{"s":"h","t":870,"v":0.0267},{"s":"h","t":880,"v":0.02},{"s":"h","t":890,"v":0.03},
      {"s":"h","t":900,"v":0.0167},{"s":"h","t":910,"v":0.0233},{"s":"h","t":920,"v":0.0133},{"s":"h","t":930,"v":0.0267},{"s":"h","t":940,"v":0.02},{"s":"h","t":950,"v":0.01},{"s":"h","t":960,"v":0.0233},{"s":"h","t":970,"v":0.0167},{"s":"h","t":980,"v":0.02},{"s":"h","t":990,"v":0.01},
      {"s":"h","t":1000,"v":0.0167},{"s":"h","t":1010,"v":0.0233},{"s":"h","t":1020,"v":0.01},{"s":"h","t":1030,"v":0.0133},{"s":"h","t":1040,"v":0.02},{"s":"h","t":1050,"v":0.0067},{"s":"h","t":1060,"v":0.0167},{"s":"h","t":1070,"v":0.01},{"s":"h","t":1080,"v":0.0133},{"s":"h","t":1090,"v":0.02},
      {"s":"h","t":1100,"v":0.0067},{"s":"h","t":1110,"v":0.0133},{"s":"h","t":1120,"v":0.01},{"s":"h","t":1130,"v":0.0167},{"s":"h","t":1140,"v":0.0067},{"s":"h","t":1150,"v":0.01},{"s":"h","t":1160,"v":0.0033},{"s":"h","t":1170,"v":0.0133},{"s":"h","t":1180,"v":0.0067},{"s":"h","t":1190,"v":0.01},
      {"s":"h","t":1200,"v":0.0167},{"s":"h","t":1210,"v":0.0033},{"s":"h","t":1220,"v":0.01},{"s":"h","t":1230,"v":0.0067},{"s":"h","t":1240,"v":0.0133},{"s":"h","t":1250,"v":0.0033},{"s":"h","t":1260,"v":0.01},{"s":"h","t":1270,"v":0.0067},{"s":"h","t":1280,"v":null},{"s":"h","t":1290,"v":0.01},
      {"s":"h","t":1300,"v":0.0033},{"s":"h","t":1310,"v":0.0067},{"s":"h","t":1320,"v":0.0133},{"s":"h","t":1330,"v":0.0033},{"s":"h","t":1340,"v":0.0067},{"s":"h","t":1350,"v":0.0033},{"s":"h","t":1360,"v":0.01},{"s":"h","t":1370,"v":null},{"s":"h","t":1380,"v":0.0067},{"s":"h","t":1390,"v":0.0033},
      {"s":"h","t":1400,"v":0.0067},{"s":"h","t":1410,"v":0.0033},{"s":"h","t":1420,"v":0.01},{"s":"h","t":1430,"v":null},{"s":"h","t":1440,"v":0.0033},{"s":"h","t":1450,"v":0.0067},{"s":"h","t":1460,"v":0.0033},{"s":"h","t":1470,"v":null},{"s":"h","t":1480,"v":0.0067},{"s":"h","t":1490,"v":0.0033},
      {"s":"h","t":1500,"v":0.0033},{"s":"h","t":1510,"v":null},{"s":"h","t":1520,"v":0.0067},{"s":"h","t":1530,"v":null},{"s":"h","t":1540,"v":0.0033},{"s":"h","t":1550,"v":0.0033},{"s":"h","t":1560,"v":null},{"s":"h","t":1570,"v":0.0067},{"s":"h","t":1580,"v":null},{"s":"h","t":1590,"v":0.0033},
      {"s":"h","t":1600,"v":null},{"s":"h","t":1610,"v":0.0033},{"s":"h","t":1620,"v":null},{"s":"h","t":1630,"v":0.0033},{"s":"h","t":1640,"v":0.0067},{"s":"h","t":1650,"v":null},{"s":"h","t":1670,"v":0.0033},{"s":"h","t":1680,"v":null},{"s":"h","t":1700,"v":0.0033},{"s":"h","t":1710,"v":null},
      {"s":"h","t":1730,"v":0.0067},{"s":"h","t":1740,"v":null},{"s":"h","t":1760,"v":0.0033},{"s":"h","t":1770,"v":null},{"s":"h","t":1790,"v":0.0033},{"s":"h","t":1800,"v":0.0033},{"s":"h","t":1810,"v":null},{"s":"h","t":1840,"v":0.0067},{"s":"h","t":1850,"v":null},{"s":"h","t":1870,"v":0.0033},
      {"s":"h","t":1880,"v":null},{"s":"h","t":1910,"v":0.0033},{"s":"h","t":1920,"v":null},{"s":"h","t":1950,"v":0.0033},{"s":"h","t":1960,"v":null}
    ]
  },
  "layer": [
    {
      "data": {"name": "counts"},
      "transform": [
        {"lookup": "s", "from": {"data": {"name": "names"}, "key": "s", "fields": ["name"]}}
      ],
      "mark": {"type": "line", "strokeWidth": 1, "clip": true, "invalid": "break-paths-show-domains"},
      "encoding": {
        "x": {
          "field": "t",
          "type": "quantitative",
          "scale": {"domain": [0, 2000], "nice": false},
          "axis": {
            "values": [0, 500, 1000, 1500, 2000],
            "format": "d",
            "tickSize": -4,
            "labelPadding": 9,
            "labelFlush": false,
            "title": "Time [µs]",
            "titlePadding": 2
          }
        },
        "y": {
          "field": "v",
          "type": "quantitative",
          "scale": {"type": "log", "domain": [0.001, 608], "nice": false},
          "axis": {
            "values": [0.001, 0.01, 0.1, 1, 10, 100],
            "format": "~g",
            "tickSize": -4.5,
            "labelPadding": 9.5,
            "title": "Count rate [cps]",
            "titlePadding": -3
          }
        },
        "color": {
          "field": "name",
          "type": "nominal",
          "scale": {
            "domain": [
              "NU3 Thermal neutrons",
              "NU3 Epithermal neutrons",
              "PU3 Thermal neutrons",
              "PU3 Epithermal neutrons",
              "PU1 Centralized thermal neutrons",
              "PU1 Centralized epithermal neutrons",
              "PU1 Eccentered thermal neutrons",
              "PU1 Eccentered epithermal neutrons"
            ],
            "range": ["#404040", "#FF2A2A", "#1F66E5", "#13AE67", "#DD77EE", "#EBA313", "#23C5D3", "#8C3535"]
          },
          "legend": {
            "title": null,
            "orient": "top-right",
            "offset": 0,
            "padding": 3,
            "strokeColor": "#888888",
            "fillColor": "white",
            "symbolType": "stroke",
            "symbolSize": 729,
            "symbolStrokeWidth": 1.5,
            "clipHeight": 14.4,
            "labelFontSize": 11.5,
            "labelColor": "#000",
            "labelOffset": 3,
            "labelLimit": 0,
            "rowPadding": 0
          }
        }
      }
    },
    {
      "data": {"values": [{"t": 0, "v": 1}]},
      "mark": {"type": "point", "opacity": 0},
      "encoding": {
        "x": {
          "field": "t",
          "type": "quantitative",
          "scale": {"domain": [0, 2000], "nice": false},
          "axis": {"orient": "bottom", "values": [250, 750, 1250, 1750], "tickSize": -2.5, "labels": false, "title": null}
        },
        "y": {
          "field": "v",
          "type": "quantitative",
          "scale": {"type": "log", "domain": [0.001, 608], "nice": false},
          "axis": {
            "orient": "left",
            "values": [0.002, 0.003, 0.004, 0.005, 0.006, 0.007, 0.008, 0.009, 0.02, 0.03, 0.04, 0.05, 0.06, 0.07, 0.08, 0.09, 0.2, 0.3, 0.4, 0.5, 0.6, 0.7, 0.8, 0.9, 2, 3, 4, 5, 6, 7, 8, 9, 20, 30, 40, 50, 60, 70, 80, 90, 200, 300, 400, 500, 600],
            "tickSize": -2.5,
            "labels": false,
            "title": null
          }
        }
      }
    }
  ],
  "resolve": {"axis": {"x": "independent", "y": "independent"}}
}
